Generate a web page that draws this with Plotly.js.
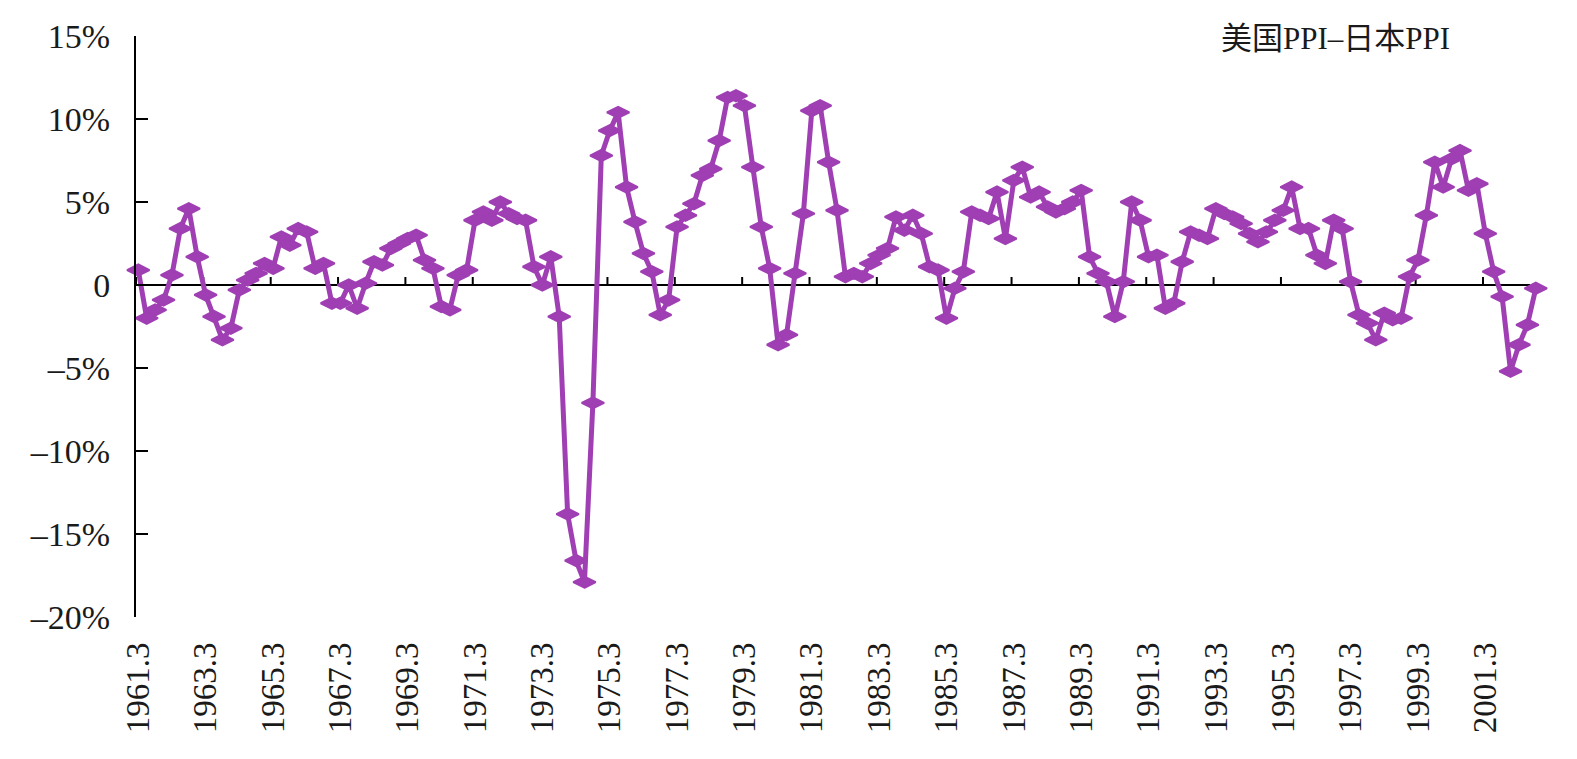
<!DOCTYPE html>
<html>
<head>
<meta charset="utf-8">
<script src="https://cdn.plot.ly/plotly-3.0.1.min.js"></script>
<style>
  html, body { margin: 0; padding: 0; background: #ffffff; }
  #chart { width: 1577px; height: 759px; }
</style>
</head>
<body>
<div id="chart"></div>
<script>
// Quarterly spread: US PPI growth minus Japan PPI growth (%), 1961Q3 onward
const startYear = 1961;
const startQuarter = 3;

const spread = [
   0.9, -2.0, -1.5, -0.9,  0.6,  3.4,  4.6,  1.7,
  -0.6, -1.9, -3.3, -2.6, -0.3,  0.3,  0.7,  1.3,
   1.0,  2.9,  2.4,  3.4,  3.2,  1.0,  1.3, -1.1,
  -1.1,  0.0, -1.4,  0.1,  1.4,  1.2,  2.2,  2.5,
   2.8,  3.0,  1.5,  1.0, -1.3, -1.5,  0.6,  0.9,
   3.9,  4.4,  3.9,  5.0,  4.3,  4.0,  3.9,  1.1,
   0.0,  1.7, -1.9, -13.8, -16.6, -17.9, -7.1, 7.8,
   9.3, 10.4,  5.9,  3.8,  1.9,  0.8, -1.8, -0.9,
   3.5,  4.2,  4.9,  6.6,  7.0,  8.7, 11.3, 11.4,
  10.8,  7.1,  3.5,  1.0, -3.6, -3.0,  0.7,  4.3,
  10.5, 10.8,  7.4,  4.5,  0.5,  0.7,  0.5,  1.3,
   1.8,  2.2,  4.1,  3.3,  4.2,  3.1,  1.1,  0.9,
  -2.0, -0.2,  0.8,  4.4,  4.2,  4.0,  5.6,  2.8,
   6.3,  7.1,  5.3,  5.6,  4.7,  4.4,  4.6,  5.0,
   5.7,  1.7,  0.7,  0.2, -1.9,  0.2,  5.0,  3.9,
   1.7,  1.8, -1.4, -1.1,  1.4,  3.2,  3.0,  2.8,
   4.6,  4.3,  4.1,  3.7,  3.1,  2.6,  3.2,  3.9,
   4.5,  5.9,  3.4,  3.4,  1.8,  1.3,  3.9,  3.4,
   0.2, -1.8, -2.3, -3.3, -1.7, -2.1, -2.0,  0.5,
   1.5,  4.2,  7.4,  5.9,  7.6,  8.1,  5.7,  6.1,
   3.1,  0.8, -0.7, -5.2, -3.6, -2.4, -0.2
];

// Category labels "YYYY.Q" for every quarter
const quarterLabels = spread.map((_, i) => {
  const q = startQuarter - 1 + i;
  return (startYear + Math.floor(q / 4)) + '.' + (q % 4 + 1);
});
const quarterIndex = spread.map((_, i) => i);

// Axis labelling: one label every two years
const labelStep = 8;
const xTickVals = quarterIndex.filter(i => i % labelStep === 0);
const xTickText = xTickVals.map(i => quarterLabels[i]);

const yTickVals = [-20, -15, -10, -5, 0, 5, 10, 15];
const yTickText = ['\u201320%', '\u201315%', '\u201310%', '\u20135%', '0', '5%', '10%', '15%'];

const seriesName = '美国PPI\u2013日本PPI';
const lineColor = '#9F3FB3';
const serif = '"Liberation Serif", "Times New Roman", "Noto Sans CJK SC", serif';

// Category axis geometry: boundaries sit a little left of each point
const boundaryShift = -0.27;
const axisEnd = quarterIndex.length - 1 - 0.66;

// Horizontal category axis drawn through y = 0
const zeroAxis = {
  type: 'line', xref: 'x', yref: 'y',
  x0: boundaryShift, x1: axisEnd, y0: 0, y1: 0,
  line: { color: '#000000', width: 2 },
  layer: 'below'
};

// Small upward tick marks on that axis, at the category boundaries
const tickShapes = xTickVals.map(v => ({
  type: 'line', xref: 'x', yref: 'y',
  ysizemode: 'pixel', yanchor: 0,
  x0: v + boundaryShift, x1: v + boundaryShift, y0: 0, y1: 8,
  line: { color: '#000000', width: 2 },
  layer: 'below'
}));

const trace = {
  type: 'scatter',
  mode: 'lines+markers',
  x: quarterIndex,
  y: spread,
  text: quarterLabels,
  name: seriesName,
  line: { color: lineColor, width: 5 },
  marker: { symbol: 'diamond-wide', size: 16, color: lineColor, line: { color: lineColor, width: 2 } },
  cliponaxis: false,
  hovertemplate: '%{text}: %{y:.1f}%<extra></extra>'
};

const layout = {
  width: 1577,
  height: 759,
  margin: { l: 136, r: 37, t: 36, b: 142 },
  paper_bgcolor: '#ffffff',
  plot_bgcolor: '#ffffff',
  showlegend: false,
  font: { family: serif, color: '#1a1a1a', size: 34 },
  xaxis: {
    range: [boundaryShift, 166.5],
    tickmode: 'array',
    tickvals: xTickVals,
    ticktext: xTickText,
    tickangle: -90,
    ticks: '',
    showline: false,
    showgrid: false,
    zeroline: false,
    tickfont: { family: serif, size: 33, color: '#1a1a1a' },
    ticklabelstandoff: 18,
    fixedrange: true
  },
  yaxis: {
    range: [-20, 15],
    tickmode: 'array',
    tickvals: yTickVals,
    ticktext: yTickText,
    ticks: 'inside',
    ticklen: 12,
    tickwidth: 2,
    tickcolor: '#000000',
    showline: true,
    linecolor: '#000000',
    linewidth: 2,
    showgrid: false,
    zeroline: false,
    tickfont: { family: serif, size: 34, color: '#1a1a1a' },
    ticklabelstandoff: 17,
    fixedrange: true
  },
  shapes: [zeroAxis].concat(tickShapes),
  annotations: [{
    xref: 'paper', yref: 'paper',
    x: 0.937, y: 0.9957,
    xanchor: 'right', yanchor: 'middle',
    text: seriesName,
    showarrow: false,
    font: { family: serif, size: 31, color: '#1a1a1a' }
  }]
};

Plotly.newPlot('chart', [trace], layout, { displayModeBar: false, staticPlot: true });
</script>
</body>
</html>
